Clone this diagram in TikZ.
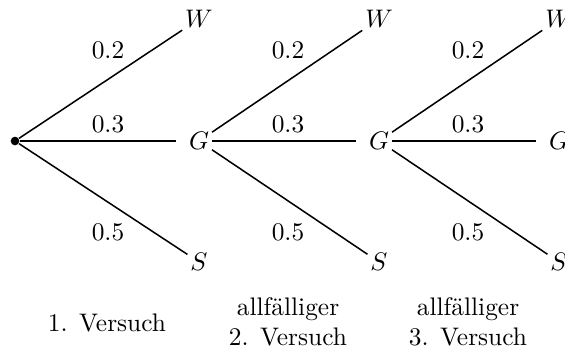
\documentclass[tikz,border=0pt]{standalone}
\begin{document}
\begin{tikzpicture}[x=0.3937pt,y=-0.3937pt,
  dotnode/.style={circle,fill=black,inner sep=0pt,minimum size=3.4pt},
  leaf/.style={inner sep=1pt},
  lbl/.style={inner sep=0pt},
  branch/.style={line width=0.6pt},
  midbranch/.style={line width=0.6pt,shorten >=4pt},
  caption/.style={align=center,inner sep=0pt}]
\useasboundingbox (0,0) rectangle (565,347);
\node[dotnode] (G0) at (15,141) {};
\foreach \i/\p in {1/0,2/1,3/2}{
  \pgfmathsetmacro{\gx}{19+180*\i}
  \pgfmathsetmacro{\lx}{19+180*\i-91}
  \node[leaf] (W\i) at (\gx,19) {$W$};
  \node[leaf] (G\i) at (\gx,141) {$G$};
  \node[leaf] (S\i) at (\gx,262) {$S$};
  \draw[branch] (G\p) -- (W\i);
  \draw[midbranch] (G\p) -- (G\i);
  \draw[branch] (G\p) -- (S\i);
  \node[lbl] (a\i) at (\lx,50) {$0.2$};
  \node[lbl] (b\i) at (\lx,124) {$0.3$};
  \node[lbl] (c\i) at (\lx,232) {$0.5$};
}
\node[caption] (v1) at (107,323) {1. Versuch};
\node[caption] (v2) at (288,322) {allfälliger\\2. Versuch};
\node[caption] (v3) at (468,322) {allfälliger\\3. Versuch};
\end{tikzpicture}
\end{document}
